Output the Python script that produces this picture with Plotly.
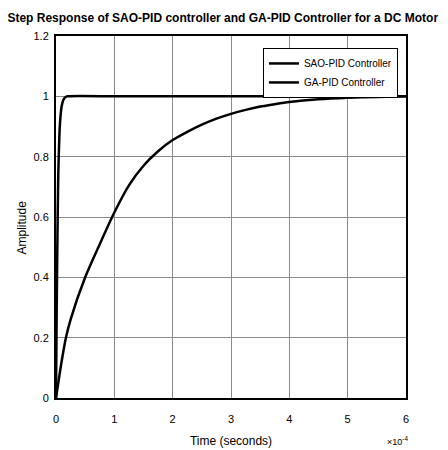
import plotly.graph_objects as go

# time in units of 1e-4 s
t_sao = [0, 0.01, 0.02, 0.03, 0.04, 0.06, 0.08, 0.1, 0.13, 0.16, 0.2, 1, 2, 3, 4, 5, 6]
y_sao = [0, 0.25, 0.45, 0.62, 0.75, 0.88, 0.94, 0.97, 0.99, 0.997, 1.0, 1.0, 1.0, 1.0, 1.0, 1.0, 1.0]

t_ga = [0, 0.1, 0.17, 0.25, 0.5, 0.75, 1.0, 1.25, 1.5, 1.75, 2.0, 2.25, 2.5, 2.75, 3.0,
        3.25, 3.5, 3.75, 4.0, 4.5, 5.0, 5.5, 6.0]
y_ga = [0, 0.125, 0.2, 0.26, 0.4, 0.51, 0.615, 0.705, 0.77, 0.818, 0.855, 0.882, 0.906, 0.926, 0.942,
        0.955, 0.966, 0.974, 0.981, 0.99, 0.995, 0.998, 1.0]

x_ticks = [0, 1, 2, 3, 4, 5, 6]
y_ticks = [0, 0.2, 0.4, 0.6, 0.8, 1.0, 1.2]
y_tick_text = ["0", "0.2", "0.4", "0.6", "0.8", "1", "1.2"]

FONT = "Liberation Sans, Arial, sans-serif"

fig = go.Figure()
fig.add_trace(go.Scatter(x=t_sao, y=y_sao, mode="lines", name="SAO-PID Controller",
                         line=dict(color="black", width=2.5, shape="spline", smoothing=0.6)))
fig.add_trace(go.Scatter(x=t_ga, y=y_ga, mode="lines", name="GA-PID Controller",
                         line=dict(color="black", width=2.5, shape="spline", smoothing=0.8)))

fig.update_layout(
    width=440, height=450,
    margin=dict(l=48, r=42, t=28, b=55),
    paper_bgcolor="white", plot_bgcolor="white",
    font=dict(family=FONT, size=11, color="black"),
    title=dict(text="<b>Step Response of SAO-PID controller and GA-PID Controller for a DC Motor</b>",
               xref="container", x=0.488, xanchor="center",
               yref="container", y=1 - 10 / 450, yanchor="middle",
               font=dict(family=FONT, size=12, color="black")),
    showlegend=True,
    legend=dict(x=0.977, y=0.967, xanchor="right", yanchor="top",
                bgcolor="white", bordercolor="black", borderwidth=1,
                font=dict(family=FONT, size=10, color="black"),
                tracegroupgap=0, itemwidth=30),
    xaxis=dict(range=[0, 6], tickvals=x_ticks, showgrid=True, gridcolor="#8a8a8a", gridwidth=1,
               showline=True, linecolor="black", linewidth=2, mirror=True, zeroline=False,
               ticks="", tickfont=dict(size=11), ticklabelstandoff=10,
               title=dict(text="Time (seconds)", font=dict(size=12), standoff=12)),
    yaxis=dict(range=[0, 1.2], tickvals=y_ticks, ticktext=y_tick_text, showgrid=True,
               gridcolor="#8a8a8a", gridwidth=1,
               showline=True, linecolor="black", linewidth=2, mirror=True, zeroline=False,
               ticks="", tickfont=dict(size=11), ticklabelstandoff=3),
)

fig.add_annotation(text="Amplitude", xref="paper", yref="paper", x=-0.097, y=0.471,
                   xanchor="center", yanchor="middle", textangle=-90, showarrow=False,
                   font=dict(family=FONT, size=12, color="black"))
fig.add_annotation(text="×10<sup>-4</sup>", xref="paper", yref="paper", x=1.011, y=-0.118,
                   xanchor="right", yanchor="middle", showarrow=False,
                   font=dict(family=FONT, size=9, color="black"))

fig.write_html("out.html")
